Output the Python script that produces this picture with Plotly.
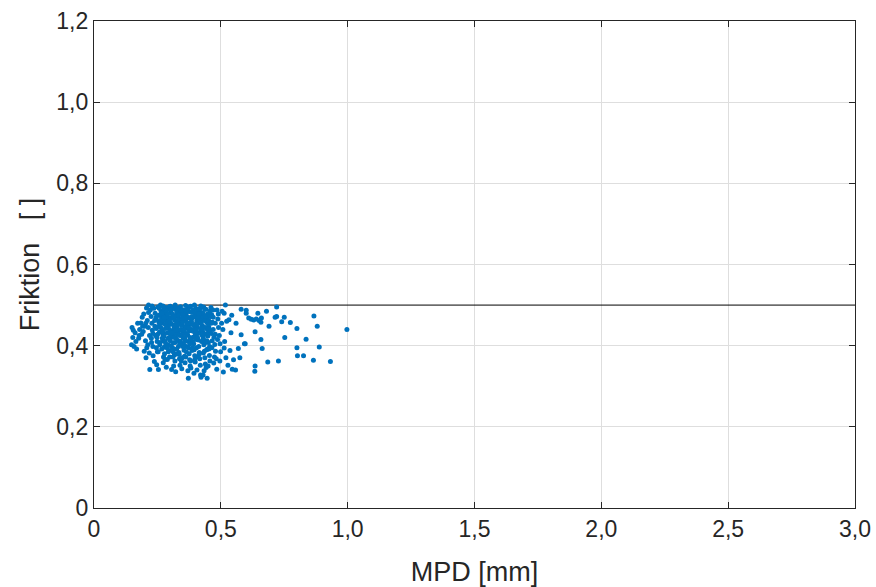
import plotly.graph_objects as go

# --- data ---
mpd = [
    0.150, 0.155, 0.148, 0.158, 0.162, 0.165, 0.172, 0.176, 0.168, 0.180, 0.178, 0.153,
    0.185, 0.190, 0.194, 0.198, 0.200, 0.203, 0.188, 0.207, 0.210, 0.212, 0.215, 0.218, 0.205, 0.196, 0.214, 0.219, 0.220, 0.208,
    0.222, 0.225, 0.228, 0.230, 0.226, 0.232, 0.238, 0.241, 0.244, 0.247, 0.236, 0.240, 0.243, 0.249, 0.252, 0.254, 0.256, 0.258, 0.250, 0.233, 0.255, 0.259, 0.246, 0.229,
    0.262, 0.264, 0.266, 0.268, 0.270, 0.272, 0.274, 0.276, 0.278, 0.280, 0.282, 0.284, 0.286, 0.288, 0.290, 0.292, 0.294, 0.296, 0.298, 0.263, 0.267, 0.271, 0.275, 0.279, 0.283, 0.287, 0.291, 0.295, 0.299, 0.273, 0.285, 0.297, 0.269, 0.281, 0.293,
    0.301, 0.303, 0.305, 0.307, 0.309, 0.311, 0.313, 0.315, 0.317, 0.306, 0.319, 0.321, 0.323, 0.325, 0.327, 0.329, 0.331, 0.333, 0.335, 0.337, 0.339, 0.302, 0.308, 0.312, 0.316, 0.320, 0.324, 0.328, 0.332, 0.336, 0.340, 0.304, 0.314, 0.318, 0.326, 0.334, 0.338, 0.322, 0.330,
    0.341, 0.343, 0.345, 0.347, 0.349, 0.351, 0.353, 0.355, 0.357, 0.359, 0.361, 0.363, 0.365, 0.367, 0.369, 0.371, 0.373, 0.375, 0.377, 0.379, 0.344, 0.348, 0.352, 0.356, 0.360, 0.364, 0.368, 0.372, 0.376, 0.346, 0.354, 0.362, 0.366, 0.370, 0.374, 0.378, 0.350, 0.358, 0.372,
    0.381, 0.383, 0.385, 0.387, 0.389, 0.391, 0.393, 0.395, 0.397, 0.399, 0.401, 0.403, 0.405, 0.407, 0.409, 0.411, 0.413, 0.415, 0.417, 0.419, 0.384, 0.388, 0.392, 0.396, 0.400, 0.404, 0.408, 0.412, 0.416, 0.382, 0.394, 0.406, 0.418, 0.386, 0.398, 0.410, 0.420, 0.402,
    0.421, 0.423, 0.425, 0.427, 0.429, 0.431, 0.433, 0.435, 0.437, 0.439, 0.441, 0.443, 0.445, 0.447, 0.449, 0.451, 0.453, 0.455, 0.457, 0.424, 0.428, 0.432, 0.436, 0.440, 0.444, 0.448, 0.452, 0.456, 0.422, 0.430, 0.442, 0.446, 0.458, 0.434, 0.450,
    0.461, 0.464, 0.467, 0.470, 0.473, 0.476, 0.479, 0.482, 0.485, 0.488, 0.491, 0.494, 0.497, 0.499, 0.463, 0.469, 0.472, 0.478, 0.484, 0.490, 0.496, 0.466, 0.475, 0.487,
    0.505, 0.513, 0.513, 0.508, 0.515, 0.523, 0.532, 0.536, 0.543, 0.520, 0.528, 0.540, 0.550, 0.558, 0.569, 0.580, 0.580, 0.593, 0.575, 0.560, 0.510, 0.545, 0.503, 0.518,
    0.720, 0.600, 0.600, 0.646, 0.680, 0.867, 0.714, 0.720, 0.750, 0.610, 0.620, 0.630, 0.640, 0.651, 0.660, 0.658, 0.740, 0.774, 0.690, 0.880, 0.800, 0.997, 0.635, 0.752, 0.658, 0.836, 0.596, 0.888, 0.800, 0.663, 0.802, 0.826, 0.865, 0.932, 0.727, 0.685, 0.635, 0.634,
    0.245, 0.251, 0.257, 0.261, 0.265, 0.277, 0.289, 0.300, 0.310, 0.318, 0.326, 0.334, 0.342, 0.350, 0.358, 0.366, 0.374, 0.382, 0.390, 0.398, 0.406, 0.414, 0.422, 0.430, 0.438, 0.446, 0.454, 0.462,
    0.248, 0.256, 0.264, 0.272, 0.280, 0.288, 0.296, 0.304, 0.312, 0.320, 0.328, 0.336, 0.344, 0.352, 0.360, 0.368, 0.376, 0.384, 0.392, 0.400, 0.408, 0.416, 0.424, 0.432, 0.440, 0.448, 0.456, 0.470,
    0.253, 0.261, 0.269, 0.277, 0.285, 0.293, 0.301, 0.309, 0.317, 0.325, 0.333, 0.341, 0.349, 0.357, 0.365, 0.373, 0.381, 0.389, 0.397, 0.405, 0.413, 0.421, 0.429, 0.437, 0.445, 0.453,
    0.259, 0.267, 0.275, 0.283, 0.291, 0.299, 0.307, 0.315, 0.323, 0.331, 0.339, 0.347, 0.355, 0.363, 0.371, 0.379, 0.387, 0.395, 0.403, 0.411, 0.419, 0.427, 0.435, 0.443, 0.451, 0.459,
    0.232, 0.239, 0.246, 0.274, 0.289, 0.311, 0.327, 0.344, 0.362, 0.381, 0.397, 0.414, 0.431, 0.448, 0.465, 0.478, 0.215, 0.227, 0.204, 0.192,
]
friktion = [
    0.445, 0.438, 0.402, 0.398, 0.432, 0.410, 0.455, 0.418, 0.392, 0.440, 0.425, 0.420,
    0.456, 0.470, 0.435, 0.386, 0.448, 0.412, 0.428, 0.493, 0.462, 0.402, 0.500, 0.382, 0.370, 0.478, 0.445, 0.425, 0.341, 0.395,
    0.488, 0.472, 0.455, 0.438, 0.418, 0.398, 0.361, 0.480, 0.466, 0.353, 0.492, 0.448, 0.425, 0.410, 0.495, 0.341, 0.458, 0.433, 0.385, 0.375, 0.475, 0.402, 0.442, 0.498,
    0.500, 0.486, 0.471, 0.455, 0.440, 0.426, 0.412, 0.396, 0.380, 0.366, 0.494, 0.478, 0.462, 0.447, 0.431, 0.418, 0.401, 0.388, 0.372, 0.445, 0.392, 0.482, 0.462, 0.430, 0.405, 0.489, 0.470, 0.452, 0.438, 0.358, 0.347, 0.496, 0.418, 0.452, 0.385,
    0.497, 0.483, 0.468, 0.453, 0.437, 0.422, 0.407, 0.392, 0.377, 0.341, 0.362, 0.490, 0.475, 0.460, 0.444, 0.428, 0.413, 0.398, 0.383, 0.368, 0.352, 0.425, 0.478, 0.385, 0.445, 0.500, 0.418, 0.472, 0.436, 0.492, 0.460, 0.400, 0.350, 0.463, 0.392, 0.452, 0.405, 0.336, 0.484,
    0.496, 0.481, 0.466, 0.450, 0.434, 0.419, 0.404, 0.389, 0.374, 0.358, 0.499, 0.476, 0.458, 0.443, 0.427, 0.410, 0.395, 0.380, 0.365, 0.350, 0.426, 0.370, 0.488, 0.441, 0.412, 0.385, 0.490, 0.468, 0.437, 0.343, 0.462, 0.448, 0.398, 0.338, 0.484, 0.420, 0.398, 0.478, 0.320,
    0.497, 0.483, 0.467, 0.452, 0.436, 0.421, 0.405, 0.390, 0.375, 0.360, 0.492, 0.476, 0.461, 0.445, 0.430, 0.414, 0.398, 0.383, 0.368, 0.352, 0.440, 0.410, 0.470, 0.500, 0.425, 0.395, 0.485, 0.455, 0.432, 0.345, 0.332, 0.340, 0.474, 0.388, 0.448, 0.372, 0.328, 0.415,
    0.498, 0.482, 0.466, 0.450, 0.434, 0.418, 0.402, 0.386, 0.370, 0.355, 0.490, 0.473, 0.457, 0.440, 0.424, 0.408, 0.392, 0.376, 0.362, 0.445, 0.470, 0.495, 0.428, 0.408, 0.390, 0.478, 0.462, 0.436, 0.322, 0.328, 0.346, 0.320, 0.486, 0.338, 0.350,
    0.494, 0.476, 0.458, 0.440, 0.421, 0.403, 0.386, 0.368, 0.488, 0.466, 0.445, 0.425, 0.405, 0.385, 0.430, 0.488, 0.357, 0.455, 0.342, 0.478, 0.362, 0.412, 0.372, 0.415,
    0.485, 0.480, 0.394, 0.440, 0.410, 0.460, 0.464, 0.388, 0.475, 0.370, 0.352, 0.432, 0.365, 0.340, 0.393, 0.490, 0.427, 0.405, 0.370, 0.455, 0.335, 0.342, 0.455, 0.500,
    0.495, 0.487, 0.480, 0.480, 0.485, 0.473, 0.470, 0.472, 0.470, 0.468, 0.465, 0.463, 0.466, 0.462, 0.468, 0.458, 0.459, 0.457, 0.448, 0.448, 0.442, 0.440, 0.434, 0.420, 0.415, 0.416, 0.405, 0.397, 0.395, 0.393, 0.375, 0.375, 0.364, 0.361, 0.362, 0.360, 0.350, 0.337,
    0.470, 0.428, 0.492, 0.462, 0.435, 0.490, 0.458, 0.412, 0.492, 0.430, 0.482, 0.465, 0.440, 0.476, 0.420, 0.471, 0.452, 0.470, 0.488, 0.432, 0.470, 0.490, 0.458, 0.480, 0.445, 0.466, 0.480, 0.455,
    0.420, 0.448, 0.478, 0.498, 0.410, 0.395, 0.460, 0.488, 0.468, 0.408, 0.455, 0.378, 0.487, 0.430, 0.468, 0.455, 0.495, 0.460, 0.440, 0.478, 0.420, 0.462, 0.410, 0.445, 0.472, 0.430, 0.398, 0.470,
    0.385, 0.408, 0.435, 0.470, 0.485, 0.445, 0.458, 0.395, 0.420, 0.438, 0.475, 0.410, 0.458, 0.398, 0.430, 0.445, 0.415, 0.395, 0.482, 0.452, 0.478, 0.440, 0.412, 0.490, 0.412, 0.445,
    0.455, 0.480, 0.422, 0.442, 0.478, 0.415, 0.432, 0.472, 0.452, 0.492, 0.425, 0.468, 0.438, 0.486, 0.455, 0.405, 0.472, 0.452, 0.438, 0.468, 0.492, 0.425, 0.462, 0.428, 0.452, 0.472,
    0.430, 0.462, 0.395, 0.372, 0.366, 0.372, 0.380, 0.362, 0.372, 0.362, 0.365, 0.378, 0.382, 0.392, 0.395, 0.428, 0.482, 0.408, 0.455, 0.448,
]

limit_x = [0.0, 3.0]
limit_y = [0.5, 0.5]

x_ticks = [0, 0.5, 1.0, 1.5, 2.0, 2.5, 3.0]
x_labels = ["0", "0,5", "1,0", "1,5", "2,0", "2,5", "3,0"]
y_ticks = [0, 0.2, 0.4, 0.6, 0.8, 1.0, 1.2]
y_labels = ["0", "0,2", "0,4", "0,6", "0,8", "1,0", "1,2"]

FONT = "Liberation Sans, Arial, Helvetica, sans-serif"
AX = "#262626"

fig = go.Figure()
fig.add_trace(go.Scatter(
    x=limit_x, y=limit_y, mode="lines",
    line=dict(color="#000000", width=1), hoverinfo="skip", showlegend=False,
))
fig.add_trace(go.Scatter(
    x=mpd, y=friktion, mode="markers",
    marker=dict(color="#0072BD", size=5, line=dict(width=0)),
    showlegend=False,
))

axis_common = dict(
    showline=True, linecolor=AX, linewidth=1.3, mirror="ticks",
    ticks="inside", ticklen=6, tickcolor=AX, tickwidth=1.3,
    showgrid=True, gridcolor="#dedede", gridwidth=1,
    zeroline=False, automargin=False,
    tickfont=dict(family=FONT, size=23, color=AX),
)

fig.update_xaxes(
    range=[0, 3.0], tickvals=x_ticks, ticktext=x_labels,
    title=dict(text="MPD [mm]", font=dict(family=FONT, size=27, color=AX), standoff=22),
    **axis_common,
)
fig.update_yaxes(
    range=[0, 1.2], tickvals=y_ticks, ticktext=y_labels,
    title=dict(text="Friktion   [ ]", font=dict(family=FONT, size=27, color=AX), standoff=8),
    **axis_common,
)

fig.update_layout(
    width=876, height=587,
    margin=dict(l=94, r=21, t=21, b=79),
    paper_bgcolor="white", plot_bgcolor="white",
)

fig.write_html("out.html")
